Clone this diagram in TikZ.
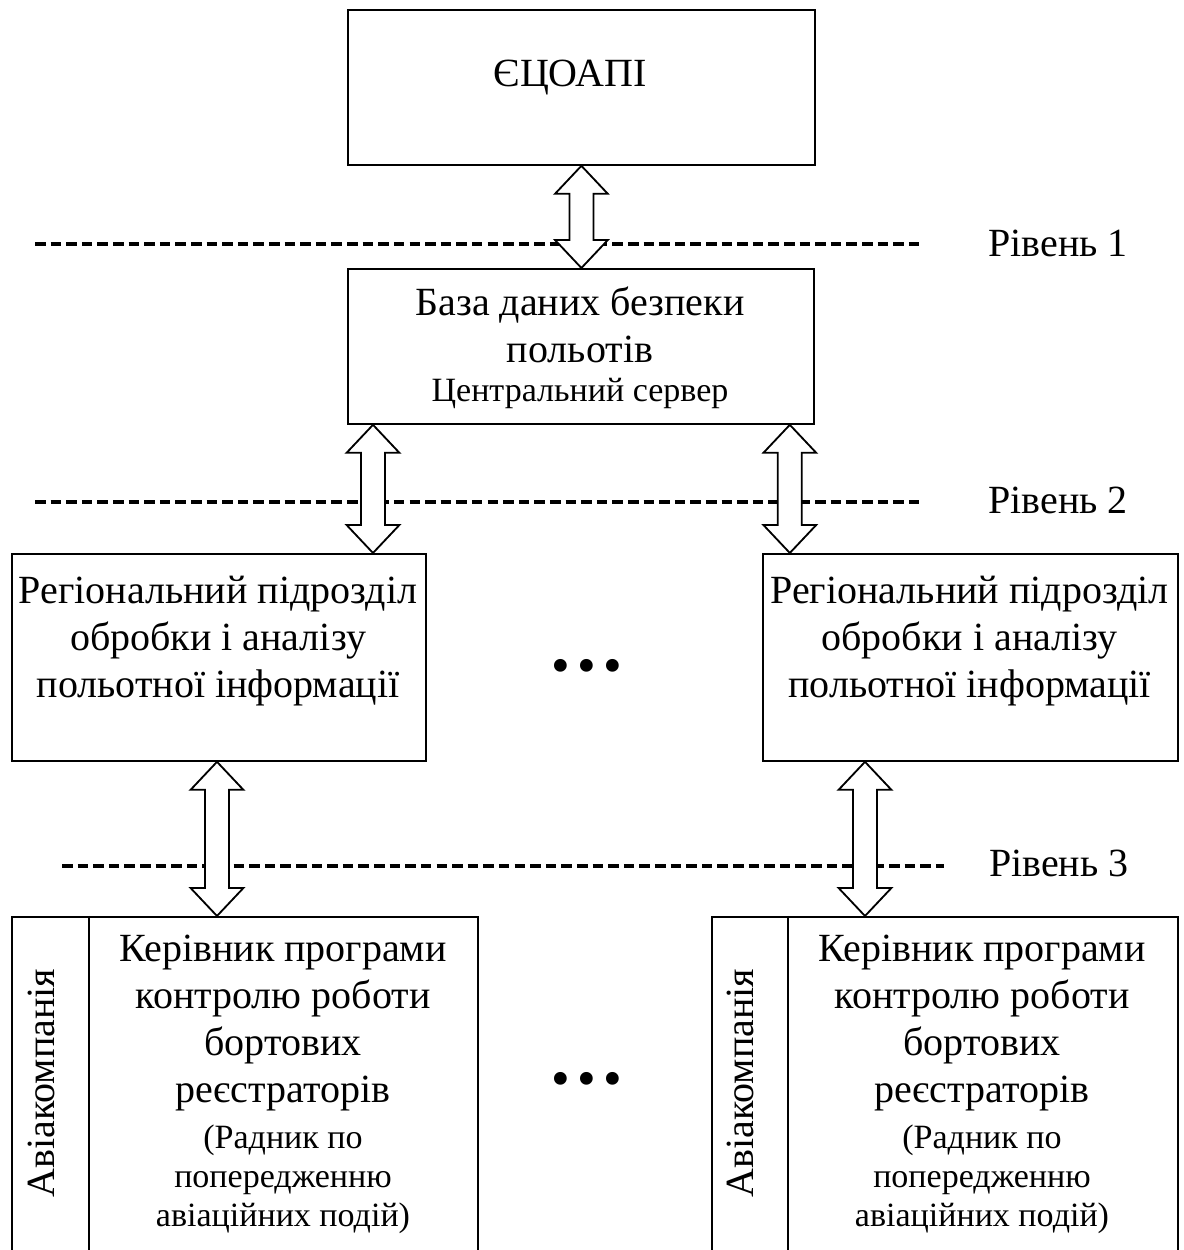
\documentclass[tikz,border=0pt]{standalone}
\usepackage{fontspec}
\setmainfont{Liberation Serif}
\usetikzlibrary{calc,positioning}

% hollow two-way block arrow between two points on one vertical
\newcommand{\twoway}[2]{%
  \draw[twoarrow] (#1) -- ++(0.66,-0.7) -- ++(-0.36,0)
    -- ($(#2)+(0.3,0.7)$) -- ++(0.36,0) -- (#2) -- ++(-0.66,0.7)
    -- ++(0.36,0) -- ($(#1)+(-0.3,-0.7)$) -- ++(-0.36,0) -- cycle;}

\begin{document}
\begin{tikzpicture}[
  x=1cm,
  y=1cm,
  font=\fontsize{28.45}{33.4}\selectfont,
  unit/.style={draw, line width=1.3pt, fill=white, anchor=north west,
    inner sep=0pt},
  divider/.style={line width=1.3pt},
  twoarrow/.style={draw, line width=1.3pt, fill=white, line join=miter},
  level/.style={line width=2.5pt, dash pattern=on 7.5pt off 3.6pt},
  levelname/.style={anchor=west, inner sep=0pt},
  txt/.style={align=center, inner sep=0pt, anchor=north},
  small/.style={font=\fontsize{24.2}{27.7}\selectfont},
  gap/.style={inner sep=0pt, font=\fontsize{38}{44}\selectfont}
]
\useasboundingbox (0,0) rectangle (29.6,31.25);

% Level separators with their names on the right.
\draw[level] (0.875,25.15) -- (23.0,25.15);
\node[levelname] (lvl1) at (24.7,25.175) {Рівень 1};
\draw[level] (0.875,18.7) -- (23.0,18.7);
\node[levelname] (lvl2) at (24.7,18.75) {Рівень 2};
\draw[level] (1.55,9.6) -- (23.6,9.6);
\node[levelname] (lvl3) at (24.72,9.675) {Рівень 3};

% Top: the centre and the safety database.
\node[unit, minimum width=11.675cm, minimum height=3.875cm] (ecoapi)
  at (8.675,31.025) {};
\node[inner sep=0pt, anchor=base] (ecoapiname) at (14.25,29.075) {ЄЦОАПІ};
\node[unit, minimum width=11.65cm, minimum height=3.875cm] (bd)
  at (8.675,24.55) {};
\node[txt] (bdname) at (14.5,24.075) {База даних безпеки\\польотів};
\node[small, inner sep=0pt, anchor=base] (bdserver) at (14.5,21.2)
  {Центральний сервер};

% Regional units.
\node[unit, minimum width=10.35cm, minimum height=5.175cm] (reg1)
  at (0.275,17.425) {};
\node[txt] (reg1name) at (5.45,16.85)
  {Регіональний підрозділ\\обробки і аналізу\\польотної інформації};
\node[unit, minimum width=10.375cm, minimum height=5.175cm] (reg2)
  at (19.05,17.425) {};
\node[txt] (reg2name) at (24.24,16.85)
  {Регіональний підрозділ\\обробки і аналізу\\польотної інформації};
\node[gap] (gapreg) at (14.675,14.47) {•\kern5pt•\kern5pt•};

% Airlines, cut by the lower edge.
\node[unit, minimum width=11.65cm, minimum height=9cm] (air1)
  at (0.275,8.35) {};
\draw[divider] ($(air1.north west)+(1.95,0)$)
  -- ($(air1.south west)+(1.95,0)$);
\node[rotate=90, inner sep=0pt] (air1side) at (1.025,4.175) {Авіакомпанія};
\node[txt] (mgr1) at (7.075,7.875)
  {Керівник програми\\контролю роботи\\бортових\\реєстраторів};
\node[txt, small] (adv1) at (7.075,3.125)
  {(Радник по\\попередженню\\авіаційних подій)};
\node[unit, minimum width=11.65cm, minimum height=9cm] (air2)
  at (17.775,8.35) {};
\draw[divider] ($(air2.north west)+(1.925,0)$)
  -- ($(air2.south west)+(1.925,0)$);
\node[rotate=90, inner sep=0pt] (air2side) at (18.5,4.175) {Авіакомпанія};
\node[txt] (mgr2) at (24.55,7.875)
  {Керівник програми\\контролю роботи\\бортових\\реєстраторів};
\node[txt, small] (adv2) at (24.55,3.125)
  {(Радник по\\попередженню\\авіаційних подій)};
\node[gap] (gapair) at (14.675,4.14) {•\kern5pt•\kern5pt•};

% Exchange arrows, drawn last so that they hide the dashes.
\twoway{ecoapi.south}{ecoapi.south |- bd.north}
\coordinate (bdleft) at ($(bd.south west)+(0.65,0)$);
\twoway{bdleft}{bdleft |- reg1.north}
\coordinate (bdright) at ($(bd.south east)+(-0.625,0)$);
\twoway{bdright}{bdright |- reg2.north}
\coordinate (reg1out) at ($(reg1.south west)+(5.15,0)$);
\twoway{reg1out}{reg1out |- air1.north}
\coordinate (reg2out) at ($(reg2.south west)+(2.575,0)$);
\twoway{reg2out}{reg2out |- air2.north}

\end{tikzpicture}
\end{document}
